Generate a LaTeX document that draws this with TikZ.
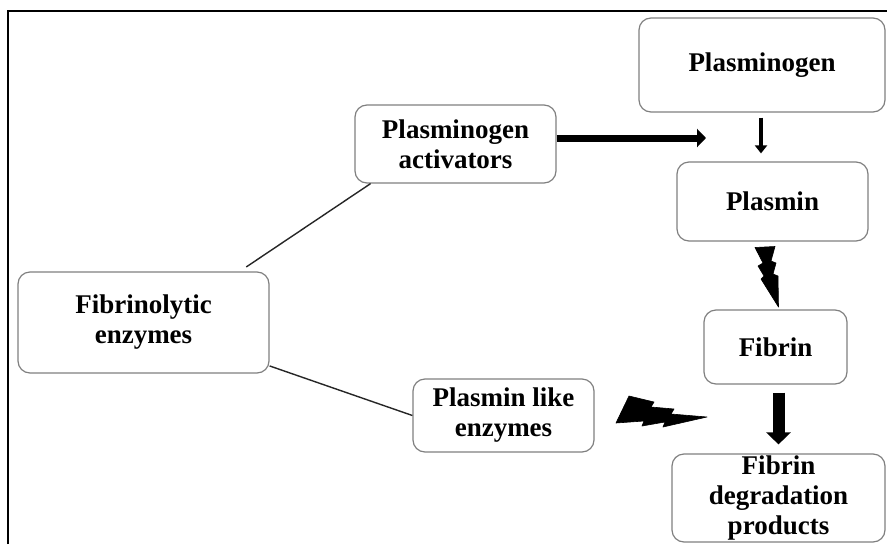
\documentclass[tikz,border=0pt]{standalone}
\usepackage{fontspec}
\setmainfont{Liberation Serif}
\usetikzlibrary{arrows.meta,calc}
\begin{document}
\begin{tikzpicture}[x=1pt,y=-1pt,
  box/.style={draw=black!50, line width=1.2pt, rounded corners=12pt, fill=white,
    inner sep=0pt, align=center, font=\bfseries\fontsize{27}{30}\selectfont},
  conn/.style={draw=black!85, line width=1.4pt},
  bolt/.style={fill=black, draw=black, line width=0.6pt, line join=round}]
\useasboundingbox (0,0) rectangle (887,544);
\fill[white] (0,0) rectangle (887,544);
% frame
\draw[line width=2.5pt] (8,544) -- (8,11) -- (887,11);

% boxes
\node[box, minimum width=201pt, minimum height=78pt] (pa) at (455.5,144) {Plasminogen\\activators};
\node[box, minimum width=246pt, minimum height=94pt] (pg) at (762,65) {Plasminogen};
\node[box, minimum width=191pt, minimum height=79pt] (pl) at (772.5,201.5) {Plasmin};
\node[box, minimum width=143pt, minimum height=74pt] (fb) at (775.5,347) {Fibrin};
\node[box, minimum width=213pt, minimum height=88pt] (fdp) at (778.5,498) {Fibrin\\degradation\\products};
\node[box, minimum width=251pt, minimum height=101pt] (fe) at (143.5,322.5) {Fibrinolytic\\enzymes};
\node[box, minimum width=181pt, minimum height=73pt] (ple) at (503.5,415.5) {Plasmin like\\enzymes};

% connectors
\draw[conn, shorten <=8pt] (fe.28) -- (pa.205);
\draw[conn] (fe.-19) -- (ple.west);

\coordinate (t1) at (706,138);
\draw[line width=7pt, -{Triangle[length=9pt,width=18pt]}] ([yshift=6pt]pa.east) -- (t1);

\draw[line width=3.5pt, -{Triangle[length=8pt,width=12pt]}, shorten <=5pt, shorten >=8pt]
  ([xshift=-1pt]pg.south) -- ([xshift=-1pt]pg.south |- pl.north);

\draw[line width=12pt, -{Triangle[length=12pt,width=24pt]}, shorten <=8pt, shorten >=9pt]
  (fdp.north |- fb.south) -- (fdp.north);

% lightning bolts
\fill[bolt] (755,247.5) -- (775,246.5) -- (771,261) -- (776,263) -- (773,274)
  -- (778,276) -- (778.5,307) -- (761,279) -- (764,276) -- (758,266)
  -- (763,263) -- cycle;
\fill[bolt] (616,423) -- (629,396) -- (654,402) -- (651,407) -- (674,409) -- (671,414)
  -- (707,417) -- (663,427) -- (665,422) -- (642,426) -- (644,421) -- cycle;
\end{tikzpicture}
\end{document}
